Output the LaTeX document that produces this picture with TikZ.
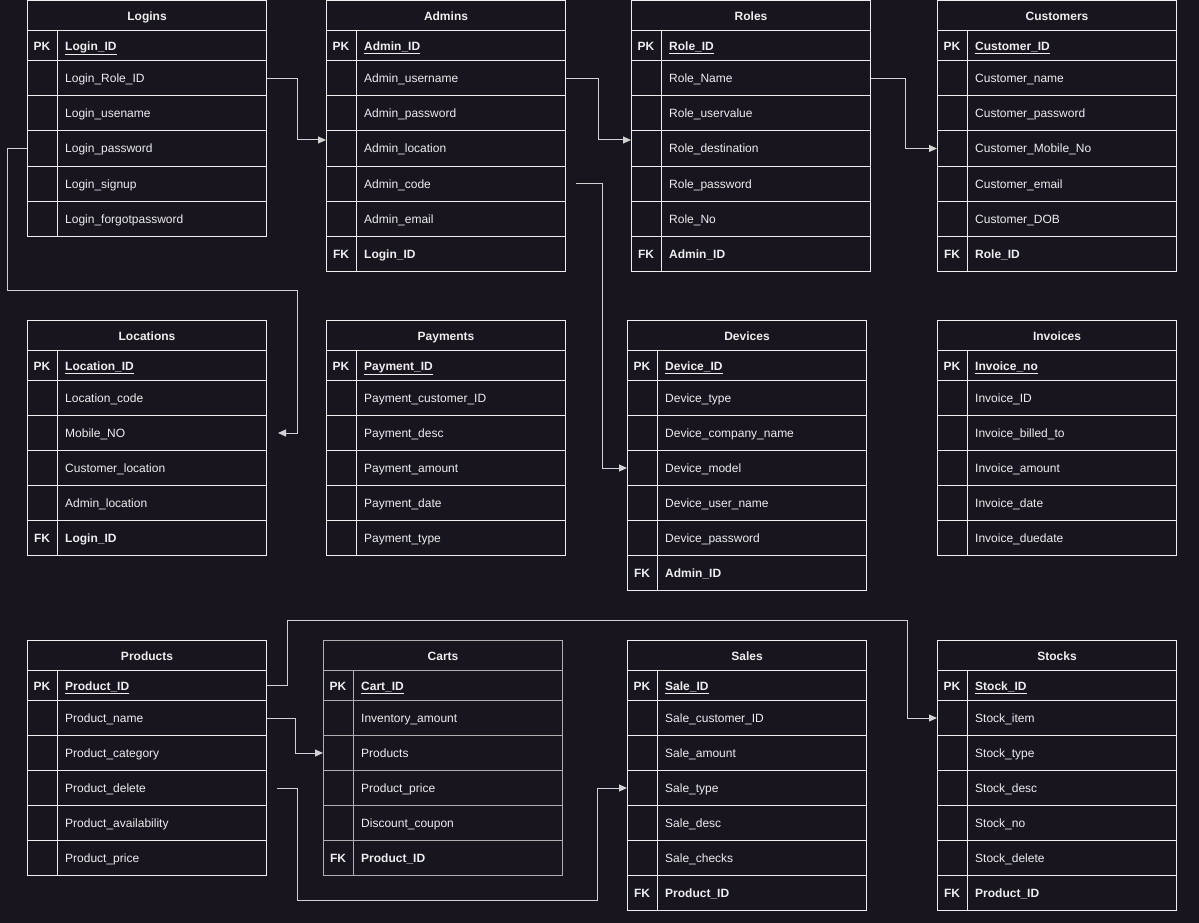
\documentclass[tikz,border=0pt]{standalone}
\usepackage{fontspec}
\setmainfont{Liberation Sans}
\usetikzlibrary{calc,arrows.meta}
\definecolor{bgdark}{RGB}{24,21,30}
\definecolor{lineclr}{RGB}{238,238,238}
\definecolor{linkclr}{RGB}{210,210,210}
\definecolor{cartclr}{RGB}{175,175,175}
\newcommand{\erfont}{\fontsize{12}{14}\selectfont}
\def\pkmark{PK}

\tikzset{
	tbox/.style={draw=lineclr, line width=1pt, minimum width=239pt, inner sep=0pt, anchor=north west},
	titlebox/.style={tbox, minimum height=30pt, text=lineclr, font=\erfont\bfseries, text height=9pt, text depth=0pt},
	divline/.style={draw=lineclr, line width=1pt},
	keytext/.style={text=lineclr, font=\erfont\bfseries, inner sep=0pt, anchor=base},
	fldtext/.style={text=lineclr, font=\erfont, inner sep=0pt, anchor=base west},
	link/.style={draw=linkclr, line width=1pt, ->, >={Triangle[length=8pt,width=7pt]}},
}

% one entity table: [extra style]{name}{x}{y}{title}{key/field list}
\newcommand{\erdtable}[6][]{%
	\node[titlebox,#1] (#2) at (#3,#4) {#5};
	\foreach[count=\i] \kk/\fld in {#6}{
		\pgfmathsetmacro\rowtop{\i==1 ? #4+30 : #4+60+(\i-2)*35}
		\pgfmathsetmacro\rowh{\i==1 ? 30 : 35}
		\node[tbox,#1,minimum height=\rowh pt] (#2-\i) at (#3,\rowtop) {};
		\draw[divline,#1] ($(#2-\i.north west)+(30,0)$) -- ($(#2-\i.south west)+(30,0)$);
		\node[keytext] at ($(#2-\i.west)+(15,4.5)$) {\kk};
		\node[fldtext] at ($(#2-\i.west)+(38,4.5)$) {\ifx\kk\empty\else\bfseries\fi\ifx\kk\pkmark\underline{\fld}\else\fld\fi};
	}
}

\begin{document}
\begin{tikzpicture}[x=1pt,y=-1pt]
	\fill[bgdark] (0,0) rectangle (1199,923);
	\useasboundingbox (0,0) rectangle (1199,923);

	% top row
	\erdtable{logins}{27}{0.5}{Logins}{PK/Login\_ID,/Login\_Role\_ID,/Login\_usename,/Login\_password,/Login\_signup,/Login\_forgotpassword}
	\erdtable{admins}{326}{0.5}{Admins}{PK/Admin\_ID,/Admin\_username,/Admin\_password,/Admin\_location,/Admin\_code,/Admin\_email,FK/Login\_ID}
	\erdtable{roles}{631}{0.5}{Roles}{PK/Role\_ID,/Role\_Name,/Role\_uservalue,/Role\_destination,/Role\_password,/Role\_No,FK/Admin\_ID}
	\erdtable{customers}{937}{0.5}{Customers}{PK/Customer\_ID,/Customer\_name,/Customer\_password,/Customer\_Mobile\_No,/Customer\_email,/Customer\_DOB,FK/Role\_ID}

	% middle row
	\erdtable{locations}{27}{320}{Locations}{PK/Location\_ID,/Location\_code,/Mobile\_NO,/Customer\_location,/Admin\_location,FK/Login\_ID}
	\erdtable{payments}{326}{320}{Payments}{PK/Payment\_ID,/Payment\_customer\_ID,/Payment\_desc,/Payment\_amount,/Payment\_date,/Payment\_type}
	\erdtable{devices}{627}{320}{Devices}{PK/Device\_ID,/Device\_type,/Device\_company\_name,/Device\_model,/Device\_user\_name,/Device\_password,FK/Admin\_ID}
	\erdtable{invoices}{937}{320}{Invoices}{PK/Invoice\_no,/Invoice\_ID,/Invoice\_billed\_to,/Invoice\_amount,/Invoice\_date,/Invoice\_duedate}

	% bottom row
	\erdtable{products}{27}{640}{Products}{PK/Product\_ID,/Product\_name,/Product\_category,/Product\_delete,/Product\_availability,/Product\_price}
	\erdtable[draw=cartclr]{carts}{323}{640}{Carts}{PK/Cart\_ID,/Inventory\_amount,/Products,/Product\_price,/Discount\_coupon,FK/Product\_ID}
	\erdtable{sales}{627}{640}{Sales}{PK/Sale\_ID,/Sale\_customer\_ID,/Sale\_amount,/Sale\_type,/Sale\_desc,/Sale\_checks,FK/Product\_ID}
	\erdtable{stocks}{937}{640}{Stocks}{PK/Stock\_ID,/Stock\_item,/Stock\_type,/Stock\_desc,/Stock\_no,/Stock\_delete,FK/Product\_ID}

	% relations
	\draw[link] (logins-2.east) -- ++(30,0) |- ($(admins-4.west)+(0,-8.5)$);
	\draw[link] (admins-2.east) -- ++(32,0) |- ($(roles-4.west)+(0,-8.5)$);
	\draw[link] (roles-2.east) -- ++(34,0) |- (customers-4.west);
	\draw[link] ($(admins-5.east)+(10,0)$) -- ++(26,0) |- (devices-4.west);
	\draw[link] (logins-4.west) -- ++(-20,0) |- (297,290) |- ($(locations-3.east)+(11,0)$);
	\draw[link] (products-1.east) -- ++(20,0) |- (907,620) |- (stocks-2.west);
	\draw[link] (products-2.east) -- ++(28,0) |- (carts-3.west);
	\draw[link] ($(products-4.east)+(10,0)$) -- ++(20,0) |- (597,900) |- (sales-4.west);
\end{tikzpicture}
\end{document}
